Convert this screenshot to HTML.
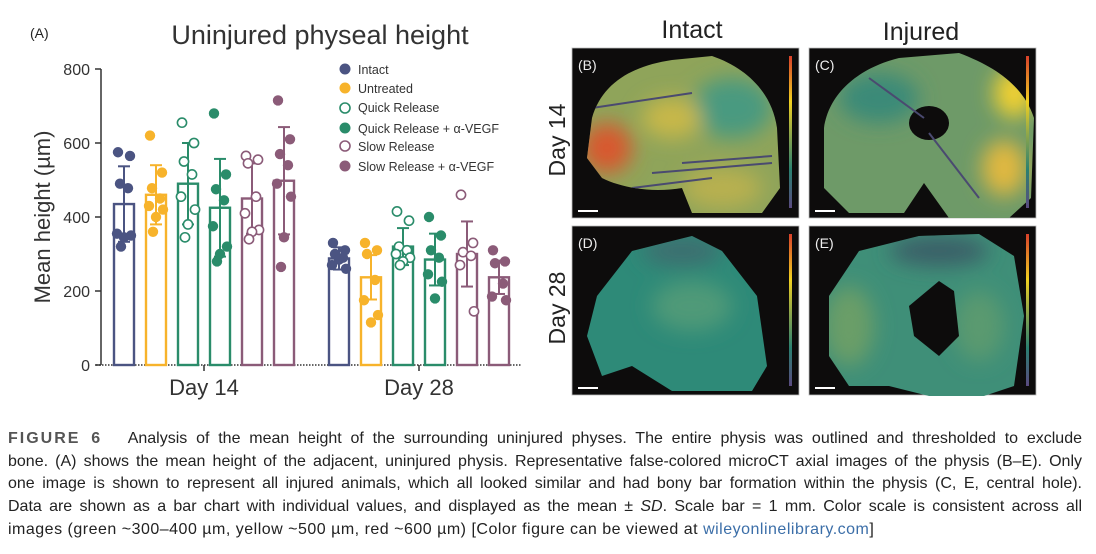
<!DOCTYPE html>
<html><head><meta charset="utf-8"><style>
html,body{margin:0;padding:0;background:#fff;}
body{width:1096px;height:554px;position:relative;overflow:hidden;font-family:"Liberation Sans",Arial,sans-serif;}
.cap{position:absolute;left:8px;top:428px;width:1074px;font-size:16px;line-height:22.7px;color:#222;}
.cap div{white-space:nowrap;text-align:justify;text-align-last:justify;}
.cap div.l{text-align-last:left;letter-spacing:0.5px;}
.cap b{letter-spacing:2px;color:#555;font-weight:bold;}
.cap a{color:#3b6ea8;text-decoration:none;}
</style></head><body>
<svg width="1096" height="420" style="position:absolute;left:0;top:0" font-family="Liberation Sans, Arial, sans-serif">
<defs>
<filter id="bl" x="-50%" y="-50%" width="200%" height="200%"><feGaussianBlur stdDeviation="10"/></filter>
<linearGradient id="cb" x1="0" y1="0" x2="0" y2="1">
<stop offset="0" stop-color="#d8402a"/><stop offset="0.3" stop-color="#f0d020"/><stop offset="0.55" stop-color="#7fa050"/><stop offset="0.75" stop-color="#2a8070"/><stop offset="1" stop-color="#5a4a80"/></linearGradient>
<clipPath id="cB"><path d="M20,70 C30,35 60,18 100,12 L140,8 C175,20 200,45 205,80 L208,140 L190,165 L120,165 L110,140 C80,145 50,140 30,130 L15,110 Z"/></clipPath>
<clipPath id="cC"><path d="M15,80 C20,45 50,20 90,10 L150,5 C190,20 215,40 225,70 L222,150 L200,170 L140,170 L115,135 L95,165 L40,165 L15,140 Z"/></clipPath>
<clipPath id="cD"><path d="M25,70 L60,25 L120,10 L150,25 L185,70 L195,140 L180,165 L100,165 L60,140 L30,150 L15,110 Z"/></clipPath>
<clipPath id="cE"><path d="M20,70 L50,25 L110,10 L170,8 L205,30 L215,90 L205,160 L175,170 L120,170 L80,160 L40,160 L20,130 Z"/></clipPath>
</defs>
<text x="30" y="38" font-size="14" fill="#222">(A)</text>
<text x="320" y="44" font-size="27" fill="#333" text-anchor="middle">Uninjured physeal height</text>
<g font-size="16" fill="#333" text-anchor="end">
<text x="90" y="75">800</text><text x="90" y="149">600</text><text x="90" y="223">400</text><text x="90" y="297">200</text><text x="90" y="371">0</text></g>
<g stroke="#333" stroke-width="1.5"><line x1="101" y1="69" x2="101" y2="365"/>
<line x1="95" y1="69" x2="101" y2="69"/><line x1="95" y1="143" x2="101" y2="143"/><line x1="95" y1="217" x2="101" y2="217"/><line x1="95" y1="291" x2="101" y2="291"/><line x1="95" y1="365" x2="101" y2="365"/>
<line x1="204" y1="365" x2="204" y2="371"/><line x1="419" y1="365" x2="419" y2="371"/></g>
<line x1="96" y1="365" x2="522" y2="365" stroke="#333" stroke-width="1.5" stroke-dasharray="1.5,1.5"/>
<text x="50" y="217" font-size="22" fill="#333" text-anchor="middle" transform="rotate(-90 50 217)">Mean height (µm)</text>
<text x="204" y="395" font-size="22" fill="#333" text-anchor="middle">Day 14</text>
<text x="419" y="395" font-size="22" fill="#333" text-anchor="middle">Day 28</text>
<g font-size="12.5" fill="#333">
<circle cx="345" cy="69" r="5.5" fill="#4b5482"/><text x="358" y="74">Intact</text>
<circle cx="345" cy="88" r="5.5" fill="#f7b32b"/><text x="358" y="93">Untreated</text>
<circle cx="345" cy="108" r="5" fill="none" stroke="#2a8c6a" stroke-width="1.6"/><text x="358" y="112">Quick Release</text>
<circle cx="345" cy="128" r="5.5" fill="#2a8c6a"/><text x="358" y="133">Quick Release + α-VEGF</text>
<circle cx="345" cy="146" r="5" fill="none" stroke="#8b5b78" stroke-width="1.6"/><text x="358" y="151">Slow Release</text>
<circle cx="345" cy="166" r="5.5" fill="#8b5b78"/><text x="358" y="171">Slow Release + α-VEGF</text>
</g>
<g id="bars" fill="none" stroke-width="2.4"></g>
<g id="pts"></g>
<text x="692" y="38" font-size="25" fill="#222" text-anchor="middle">Intact</text>
<text x="921" y="40" font-size="25" fill="#222" text-anchor="middle">Injured</text>
<text x="565" y="140" font-size="23" fill="#222" text-anchor="middle" transform="rotate(-90 565 140)">Day 14</text>
<text x="565" y="308" font-size="23" fill="#222" text-anchor="middle" transform="rotate(-90 565 308)">Day 28</text>
<g transform="translate(572,48)">
<rect width="227" height="170" fill="#0d0c0c" stroke="#bbb" stroke-width="0.8"/>
<g clip-path="url(#cB)"><rect width="227" height="170" fill="#8fa45a"/>
<g filter="url(#bl)"><ellipse cx="160" cy="60" rx="40" ry="30" fill="#4a9a80"/><ellipse cx="35" cy="100" rx="25" ry="25" fill="#d8582e"/><ellipse cx="100" cy="70" rx="30" ry="20" fill="#c8b848"/><ellipse cx="150" cy="140" rx="40" ry="20" fill="#b8b050"/></g>
<g stroke="#4a4a70" stroke-width="2"><line x1="20" y1="60" x2="120" y2="45"/><line x1="110" y1="115" x2="200" y2="108"/><line x1="80" y1="125" x2="200" y2="115"/><line x1="60" y1="140" x2="140" y2="130"/></g></g>
<rect x="217" y="8" width="3" height="152" fill="url(#cb)"/>
<rect x="6" y="162" width="20" height="2" fill="#fff"/>
<text x="6" y="22" font-size="14" fill="#eee">(B)</text></g>
<g transform="translate(809,48)">
<rect width="227" height="170" fill="#0d0c0c" stroke="#bbb" stroke-width="0.8"/>
<g clip-path="url(#cC)"><rect width="227" height="170" fill="#6e9a68"/>
<g filter="url(#bl)"><ellipse cx="205" cy="45" rx="20" ry="25" fill="#f0d030"/><ellipse cx="195" cy="120" rx="22" ry="28" fill="#e0b840"/><ellipse cx="70" cy="50" rx="40" ry="25" fill="#3a8a78"/></g>
<ellipse cx="120" cy="75" rx="20" ry="17" fill="#0d0c0c"/>
<g stroke="#4a4a70" stroke-width="2"><line x1="60" y1="30" x2="115" y2="70"/><line x1="120" y1="85" x2="170" y2="150"/></g></g>
<rect x="217" y="8" width="3" height="152" fill="url(#cb)"/>
<rect x="6" y="162" width="20" height="2" fill="#fff"/>
<text x="6" y="22" font-size="14" fill="#eee">(C)</text></g>
<g transform="translate(572,226)">
<rect width="227" height="169" fill="#0d0c0c" stroke="#bbb" stroke-width="0.8"/>
<g clip-path="url(#cD)"><rect width="227" height="170" fill="#2e8a78"/>
<g filter="url(#bl)"><ellipse cx="120" cy="80" rx="40" ry="25" fill="#4f9a78"/><ellipse cx="110" cy="25" rx="40" ry="15" fill="#3d6e70"/></g></g>
<rect x="217" y="8" width="3" height="152" fill="url(#cb)"/>
<rect x="6" y="161" width="20" height="2" fill="#fff"/>
<text x="6" y="22" font-size="14" fill="#eee">(D)</text></g>
<g transform="translate(809,226)">
<rect width="227" height="169" fill="#0d0c0c" stroke="#bbb" stroke-width="0.8"/>
<g clip-path="url(#cE)"><rect width="227" height="170" fill="#3f8f78"/>
<g filter="url(#bl)"><ellipse cx="40" cy="100" rx="25" ry="40" fill="#6a9e68"/><ellipse cx="130" cy="25" rx="50" ry="15" fill="#3a5e68"/><ellipse cx="170" cy="100" rx="25" ry="35" fill="#5a9a70"/></g>
<path d="M100,80 L130,55 L145,65 L150,110 L130,130 L105,110 Z" fill="#0d0c0c"/></g>
<rect x="217" y="8" width="3" height="152" fill="url(#cb)"/>
<rect x="6" y="161" width="20" height="2" fill="#fff"/>
<text x="6" y="22" font-size="14" fill="#eee">(E)</text></g>
</svg>
<div class="cap">
<div><b>FIGURE 6</b>&nbsp;&nbsp; Analysis of the mean height of the surrounding uninjured physes. The entire physis was outlined and thresholded to exclude</div>
<div>bone. (A) shows the mean height of the adjacent, uninjured physis. Representative false-colored microCT axial images of the physis (B–E). Only</div>
<div>one image is shown to represent all injured animals, which all looked similar and had bony bar formation within the physis (C, E, central hole).</div>
<div>Data are shown as a bar chart with individual values, and displayed as the mean ± <i>SD</i>. Scale bar = 1 mm. Color scale is consistent across all</div>
<div class="l">images (green ~300–400 µm, yellow ~500 µm, red ~600 µm) [Color figure can be viewed at <a>wileyonlinelibrary.com</a>]</div>
</div>
<script>
var C=["#4b5482","#f7b32b","#2a8c6a","#2a8c6a","#8b5b78","#8b5b78"],open=[0,0,1,0,1,0];
var X=[124,156,188,220,252,284,339,371,403,435,467,499];
var M=[435,460,490,425,450,498,288,237,320,285,300,237];
var E=[102,80,110,132,95,145,30,60,50,70,88,45];
var P=[[575,565,490,478,355,350,345,320],[620,520,478,450,430,420,400,360],[655,600,550,515,455,420,380,345],[680,515,475,445,375,320,300,280],[565,555,545,455,410,365,360,340],[715,610,570,540,490,455,345,265],
[330,310,300,290,270,260,285],[330,310,300,230,175,135,115],[415,390,320,310,300,290,280,270],[400,350,310,290,245,225,180],[460,330,305,295,270,145],[310,280,275,220,185,175]];
var y=v=>365-v*0.37,s="",t="",off=[-6,6,-4,4,-7,7,0,-3];
for(var i=0;i<12;i++){var c=C[i%6],x=X[i];
s+=`<rect x="${x-10}" y="${y(M[i])}" width="20" height="${365-y(M[i])}" stroke="${c}"/>`;
s+=`<line x1="${x}" y1="${y(M[i]+E[i])}" x2="${x}" y2="${y(M[i]-E[i])}" stroke="${c}" stroke-width="2"/><line x1="${x-6}" y1="${y(M[i]+E[i])}" x2="${x+6}" y2="${y(M[i]+E[i])}" stroke="${c}" stroke-width="2"/><line x1="${x-6}" y1="${y(M[i]-E[i])}" x2="${x+6}" y2="${y(M[i]-E[i])}" stroke="${c}" stroke-width="2"/>`;
P[i].forEach((v,k)=>{var px=x+off[k%8];t+=open[i%6]?`<circle cx="${px}" cy="${y(v)}" r="4.6" fill="#fff" stroke="${c}" stroke-width="1.6"/>`:`<circle cx="${px}" cy="${y(v)}" r="5.2" fill="${c}"/>`;});}
document.getElementById("bars").innerHTML=s;document.getElementById("pts").innerHTML=t;
</script>
</body></html>
